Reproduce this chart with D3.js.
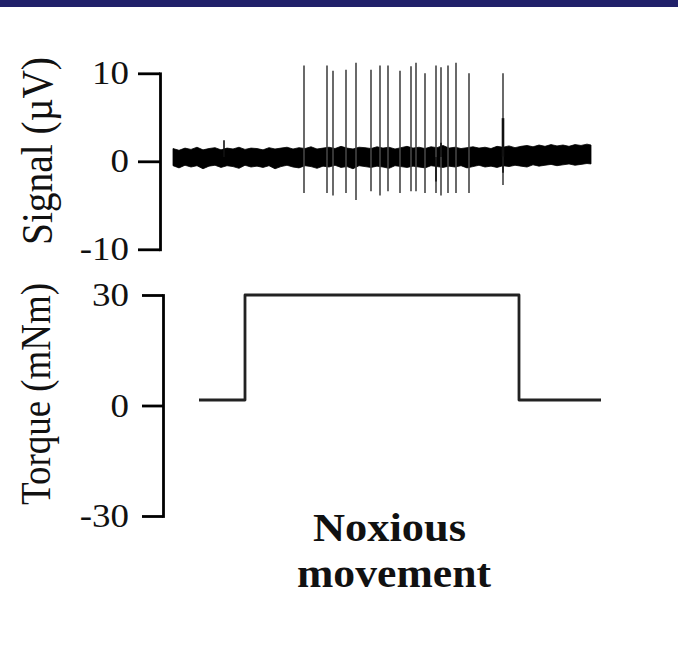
<!DOCTYPE html>
<html>
<head>
<meta charset="utf-8">
<script src="https://cdn.jsdelivr.net/npm/d3@7"></script>
<style>
  body { margin: 0; background: #fff; }
  svg { display: block; }
</style>
</head>
<body>
<svg id="chart" width="678" height="666"></svg>
<script>
// tick values
const signalTicks = [-10, 0, 10];
const torqueTicks = [-30, 0, 30];

// spikes (time in s, peak and trough in µV)
const spikeTimes   = [3.275, 3.85, 4.0, 4.325, 4.575, 4.95, 5.175, 5.375, 5.675, 5.95, 6.075, 6.3, 6.575, 6.7, 6.875, 7.075, 7.4, 8.25];
const spikeTops    = [10.9, 10.9, 10.3, 10.4, 11.2, 10.4, 10.9, 10.9, 10.3, 10.8, 11.2, 10.0, 10.9, 10.7, 10.9, 11.2, 10.0, 10.0];
const spikeBottoms = [-3.6, -3.6, -3.9, -3.6, -4.4, -3.4, -3.9, -3.4, -3.6, -3.4, -3.4, -3.6, -3.6, -3.9, -3.6, -3.6, -3.6, -2.7];

// small thick blips on the baseline
const blipTimes = [1.275, 6.575, 6.7, 8.25, 8.25];
const blipPeaks = [2.4, -2.3, 2.1, 4.9, -1.3];

// noise envelope of the baseline (µV)
const noiseT  = [0, 0.15, 0.3, 0.45, 0.6, 0.75, 0.9, 1.05, 1.2, 1.35, 1.5, 1.65, 1.8, 1.95, 2.1, 2.25, 2.4, 2.55, 2.7, 2.85,
                 3.0, 3.15, 3.3, 3.45, 3.6, 3.75, 3.9, 4.05, 4.2, 4.35, 4.5, 4.65, 4.8, 4.95, 5.1, 5.25, 5.4, 5.55, 5.7, 5.85,
                 6.0, 6.15, 6.3, 6.45, 6.6, 6.75, 6.9, 7.05, 7.2, 7.35, 7.5, 7.65, 7.8, 7.95, 8.1, 8.25, 8.4, 8.55, 8.7, 8.85,
                 9.0, 9.15, 9.3, 9.45, 9.6, 9.75, 9.9, 10.05, 10.2, 10.35, 10.45];
const noiseHi = [1.45, 1.25, 1.5, 1.35, 1.6, 1.3, 1.45, 1.55, 1.3, 1.5, 1.4, 1.6, 1.35, 1.5, 1.45, 1.3, 1.55, 1.4, 1.5, 1.6,
                 1.4, 1.55, 1.45, 1.65, 1.4, 1.5, 1.6, 1.45, 1.7, 1.5, 1.4, 1.6, 1.55, 1.45, 1.65, 1.5, 1.6, 1.4, 1.55, 1.7,
                 1.5, 1.6, 1.45, 1.65, 1.55, 1.8, 1.5, 1.6, 1.45, 1.55, 1.65, 1.5, 1.6, 1.45, 1.7, 1.6, 1.75, 1.55, 1.7, 1.8,
                 1.65, 1.85, 1.7, 1.9, 1.75, 1.85, 1.7, 1.9, 1.8, 1.95, 1.85];
const noiseLo = [-0.5, -0.75, -0.45, -0.65, -0.5, -0.85, -0.55, -0.45, -0.7, -0.5, -0.6, -0.8, -0.45, -0.65, -0.55, -0.7, -0.5, -0.85, -0.6, -0.45,
                 -0.65, -0.75, -0.5, -0.6, -0.8, -0.55, -0.65, -0.45, -0.7, -0.6, -0.85, -0.5, -0.6, -0.7, -0.55, -0.65, -0.8, -0.5, -0.6, -0.7,
                 -0.55, -0.65, -0.75, -0.5, -0.6, -0.7, -0.55, -0.65, -0.5, -0.75, -0.6, -0.45, -0.65, -0.55, -0.7, -0.5, -0.6, -0.45, -0.55, -0.65,
                 -0.4, -0.55, -0.45, -0.35, -0.5, -0.4, -0.3, -0.45, -0.35, -0.25, -0.3];

// torque step (mNm)
const torqueTimes  = [0.65, 1.8, 1.8, 8.65, 8.65, 10.7];
const torqueValues = [1.5, 1.5, 30, 30, 1.5, 1.5];

const serif = "'Liberation Serif', 'Times New Roman', serif";
const svg = d3.select('#chart');

// navy band at the top
svg.append('rect').attr('x', 0).attr('y', 0).attr('width', 678).attr('height', 7).attr('fill', '#21216a');

// scales
const x = d3.scaleLinear().domain([0, 10.7]).range([173, 601]);
const ySig = d3.scaleLinear().domain([-10, 10]).range([249.3, 73.3]);
const yTor = d3.scaleLinear().domain([-30, 30]).range([516, 295]);

// axes
function drawAxis(scale, ticks, left, size, labelX) {
  const g = svg.append('g')
    .attr('transform', `translate(${left},0)`)
    .call(d3.axisLeft(scale).tickValues(ticks).tickFormat(d => String(d))
      .tickSize(size).tickSizeOuter(0).tickPadding(9));
  g.select('.domain').attr('stroke', '#000').attr('stroke-width', 2.8).attr('stroke-linecap', 'square');
  g.selectAll('.tick line').attr('stroke', '#000').attr('stroke-width', 2.8);
  g.selectAll('.tick text')
    .attr('font-family', serif)
    .attr('font-size', 33)
    .attr('fill', '#111')
    .attr('x', labelX / 1.12)
    .attr('transform', 'scale(1.12,1)');
}
drawAxis(ySig, signalTicks, 160, 22, -31);
drawAxis(yTor, torqueTicks, 163, 21, -34);

// noise band
const band = d3.area()
  .x((d, i) => x(noiseT[i]))
  .y0((d, i) => ySig(noiseLo[i]))
  .y1((d, i) => ySig(noiseHi[i]));
svg.append('path')
  .attr('d', band(noiseT))
  .attr('fill', '#000')
  .attr('stroke', '#000')
  .attr('stroke-width', 0.8);

// spikes
spikeTimes.forEach((t, i) => {
  svg.append('line')
    .attr('x1', x(t)).attr('x2', x(t))
    .attr('y1', ySig(spikeBottoms[i])).attr('y2', ySig(spikeTops[i]))
    .attr('stroke', '#444')
    .attr('stroke-width', 1.6);
});

// blips
blipTimes.forEach((t, i) => {
  svg.append('line')
    .attr('x1', x(t)).attr('x2', x(t))
    .attr('y1', ySig(0.5)).attr('y2', ySig(blipPeaks[i]))
    .attr('stroke', '#111')
    .attr('stroke-width', i === 3 ? 2.6 : 1.6);
});

// torque trace
const torqueLine = d3.line()
  .x((d, i) => x(torqueTimes[i]))
  .y((d, i) => yTor(torqueValues[i]));
svg.append('path')
  .attr('d', torqueLine(torqueTimes))
  .attr('fill', 'none')
  .attr('stroke', '#222')
  .attr('stroke-width', 2.8)
  .attr('stroke-linejoin', 'round');

// axis titles
svg.append('text')
  .attr('transform', 'translate(52,151) rotate(-90)')
  .attr('text-anchor', 'middle')
  .attr('font-family', serif)
  .attr('font-size', 45)
  .attr('fill', '#111')
  .attr('textLength', 188)
  .attr('lengthAdjust', 'spacingAndGlyphs')
  .text('Signal (µV)');

svg.append('text')
  .attr('transform', 'translate(50,394) rotate(-90)')
  .attr('text-anchor', 'middle')
  .attr('font-family', serif)
  .attr('font-size', 43)
  .attr('fill', '#111')
  .attr('textLength', 222)
  .attr('lengthAdjust', 'spacingAndGlyphs')
  .text('Torque (mNm)');

// caption
const caption = [['Noxious', 313, 541, 153], ['movement', 297, 587, 194]];
caption.forEach(([word, cx, cy, len]) => {
  svg.append('text')
    .attr('x', cx).attr('y', cy)
    .attr('font-family', serif)
    .attr('font-weight', 'bold')
    .attr('font-size', 41)
    .attr('fill', '#111')
    .attr('textLength', len)
    .attr('lengthAdjust', 'spacingAndGlyphs')
    .text(word);
});
</script>
</body>
</html>
